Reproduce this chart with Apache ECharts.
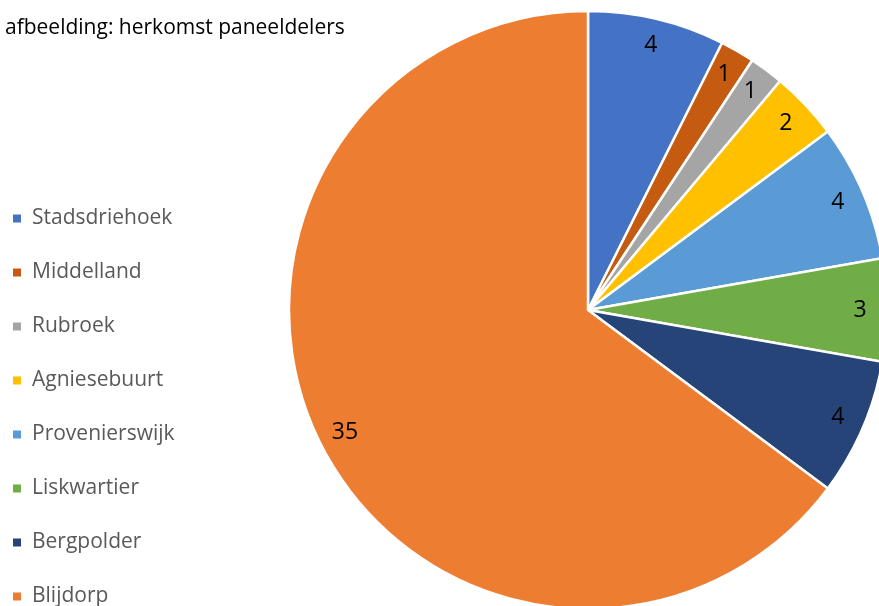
<!DOCTYPE html>
<html>
<head>
<meta charset="utf-8">
<script src="https://cdn.jsdelivr.net/npm/echarts@6/dist/echarts.min.js"></script>
<style>html,body{margin:0;padding:0;background:#fff;}#chart{width:879px;height:606px;}</style>
</head>
<body>
<div id="chart"></div>
<script>
const categories = ['Stadsdriehoek','Middelland','Rubroek','Agniesebuurt','Provenierswijk','Liskwartier','Bergpolder','Blijdorp'];
const values = [4,1,1,2,4,3,4,35];
const colors = ['#4472C4','#C55A11','#A5A5A5','#FFC000','#5B9BD5','#70AD47','#264478','#ED7D31'];
const titleText = 'afbeelding: herkomst paneeldelers';

const FONT = '"Open Sans", sans-serif';
const data = categories.map((c,i)=>({name:c, value:values[i], itemStyle:{color:colors[i]}}));
const labelData = categories.map((c,i)=>({name:c, value:values[i]}));

const chart = echarts.init(document.getElementById('chart'), null, {renderer:'canvas'});
chart.setOption({
  animation:false,
  backgroundColor:'#fff',
  title:{text:titleText,left:5,top:18,padding:0,textStyle:{fontFamily:FONT,fontSize:21,fontWeight:'normal',color:'#000'}},
  legend:{
    orient:'vertical',left:11,top:208,height:520,padding:0,
    data:categories,
    icon:'rect',itemWidth:10,itemHeight:10,itemGap:33,
    textStyle:{fontFamily:FONT,fontSize:21,color:'#595959',lineHeight:20,padding:[0,0,0,5]}
  },
  series:[
    {
      type:'pie',center:[588,310],radius:[0,299],startAngle:90,clockwise:true,
      label:{show:false},labelLine:{show:false},
      itemStyle:{borderColor:'#fff',borderWidth:2.5},
      emphasis:{disabled:true},
      data:data
    },
    {
      type:'pie',center:[588,310],radius:[239,299],startAngle:90,clockwise:true,
      silent:true,legendHoverLink:false,
      itemStyle:{color:'rgba(0,0,0,0)'},
      label:{show:true,position:'inside',formatter:'{c}',fontFamily:FONT,fontSize:23,color:'#000'},
      labelLine:{show:false},
      emphasis:{disabled:true},
      data:labelData
    }
  ]
});
</script>
</body>
</html>
